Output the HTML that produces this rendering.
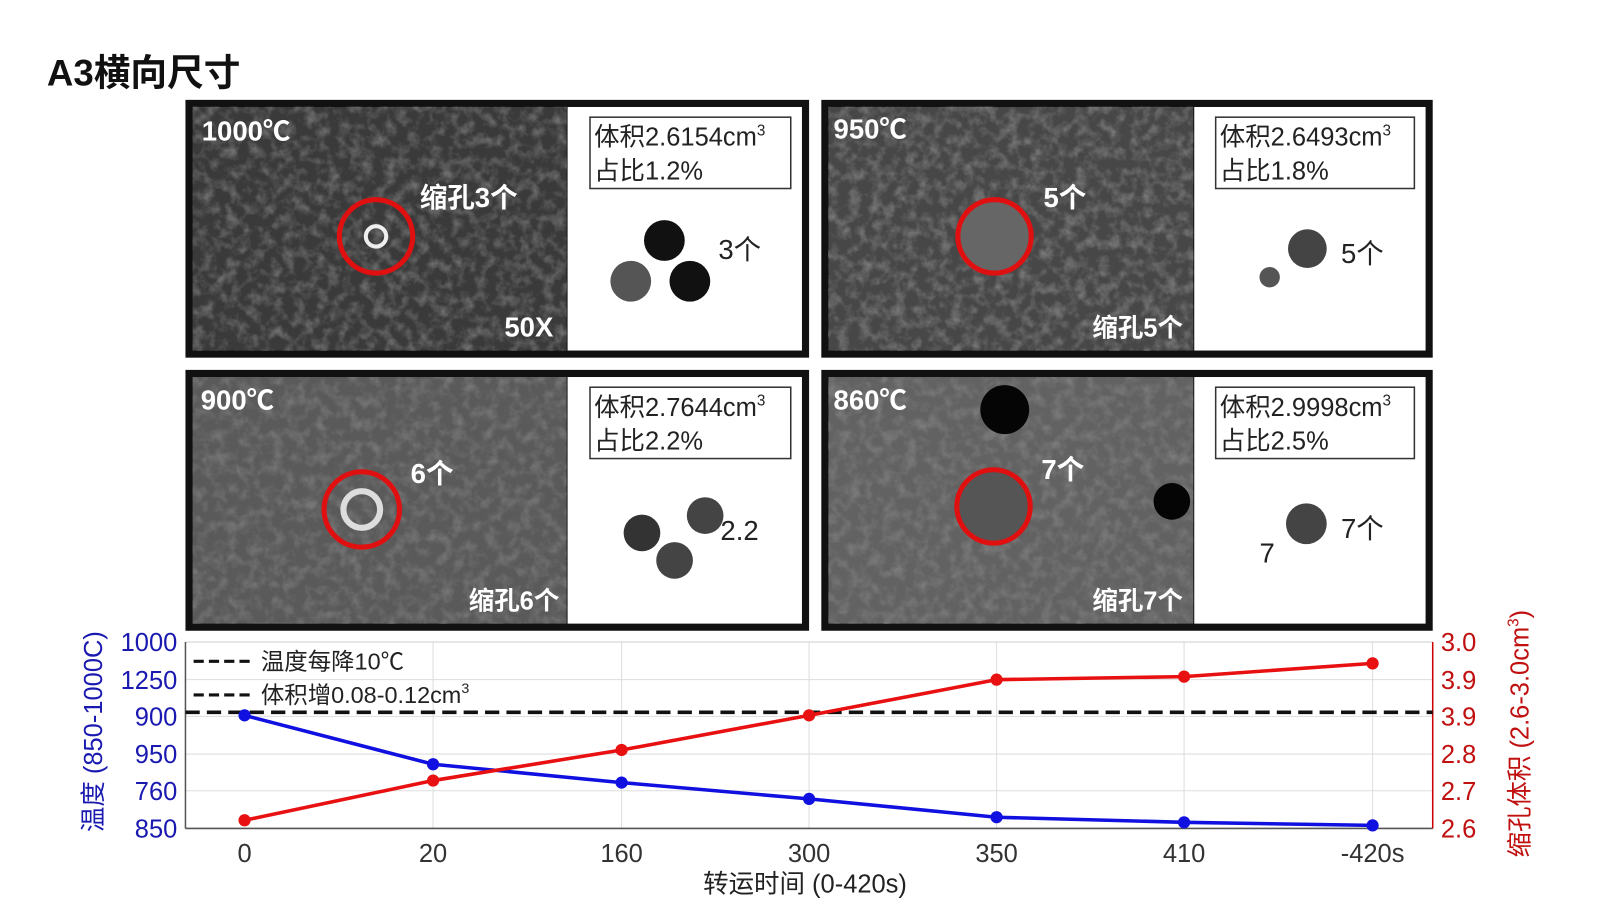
<!DOCTYPE html>
<html><head><meta charset="utf-8"><style>
body{margin:0;background:#fff;}
svg{display:block;font-family:"Liberation Sans","Noto Sans CJK SC",sans-serif;}
</style></head><body>
<svg width="1600" height="899" viewBox="0 0 1600 899">
<defs>
<filter id="n" x="0" y="0" width="100%" height="100%">
<feTurbulence type="fractalNoise" baseFrequency="0.09" numOctaves="3" seed="3"/>
<feColorMatrix type="matrix" values="0 0 0 0 0.35  0 0 0 0 0.35  0 0 0 0 0.35  0 0 0 2.2 -0.9"/>
</filter>
</defs>
<g transform="scale(1.019)">
<text x="46" y="84" font-size="36" font-weight="bold" fill="#111">A3横向尺寸</text>

<g>
<rect x="182" y="98" width="612" height="253" fill="#111"/>
<rect x="189" y="105" width="367" height="239" fill="#3a3a3a"/>
<rect x="189" y="105" width="367" height="239" fill="#fff" filter="url(#n)" opacity="0.5"/>
<rect x="557" y="105" width="230" height="239" fill="#fff"/>
<rect x="579" y="115" width="197" height="70" fill="#fff" stroke="#333" stroke-width="1.5"/>
<text x="583" y="143" font-size="25" fill="#222">体积2.6154cm<tspan font-size="15" dy="-10">3</tspan></text>
<text x="583" y="176" font-size="25" fill="#222">占比1.2%</text>
<circle cx="369" cy="232" r="36" fill="none" stroke="#e01010" stroke-width="5"/>
<circle cx="369" cy="232" r="10" fill="none" stroke="#eee" stroke-width="4"/>
<text x="198" y="138" font-size="27" font-weight="bold" fill="#fff">1000℃</text>
<text x="412" y="203" font-size="27" font-weight="bold" fill="#fff">缩孔3个</text>
<text x="495" y="330" font-size="27" font-weight="bold" fill="#fff">50X</text>
<circle cx="652" cy="236" r="20" fill="#111"/><circle cx="619" cy="276" r="20" fill="#555"/><circle cx="677" cy="276" r="20" fill="#111"/>
<text x="705" y="254" font-size="27" fill="#222">3个</text>
</g>
<g>
<rect x="806" y="98" width="600" height="253" fill="#111"/>
<rect x="813" y="105" width="358" height="239" fill="#474747"/>
<rect x="813" y="105" width="358" height="239" fill="#fff" filter="url(#n)" opacity="0.55"/>
<rect x="1172" y="105" width="227" height="239" fill="#fff"/>
<rect x="1193" y="115" width="195" height="70" fill="#fff" stroke="#333" stroke-width="1.5"/>
<text x="1197" y="143" font-size="25" fill="#222">体积2.6493cm<tspan font-size="15" dy="-10">3</tspan></text>
<text x="1197" y="176" font-size="25" fill="#222">占比1.8%</text>
<circle cx="976" cy="232" r="36" fill="#666" stroke="#e01010" stroke-width="5"/>
<text x="818" y="136" font-size="27" font-weight="bold" fill="#fff">950℃</text>
<text x="1024" y="203" font-size="27" font-weight="bold" fill="#fff">5个</text>
<text x="1072" y="330" font-size="25" font-weight="bold" fill="#fff">缩孔5个</text>
<circle cx="1283" cy="244" r="19" fill="#444"/><circle cx="1246" cy="272" r="10" fill="#555"/>
<text x="1316" y="258" font-size="27" fill="#222">5个</text>
</g>
<g>
<rect x="182" y="363" width="612" height="256" fill="#111"/>
<rect x="189" y="370" width="367" height="242" fill="#5a5a5a"/>
<rect x="189" y="370" width="367" height="242" fill="#fff" filter="url(#n)" opacity="0.4"/>
<rect x="557" y="370" width="230" height="242" fill="#fff"/>
<rect x="579" y="380" width="197" height="70" fill="#fff" stroke="#333" stroke-width="1.5"/>
<text x="583" y="408" font-size="25" fill="#222">体积2.7644cm<tspan font-size="15" dy="-10">3</tspan></text>
<text x="583" y="441" font-size="25" fill="#222">占比2.2%</text>
<circle cx="355" cy="500" r="37" fill="none" stroke="#e01010" stroke-width="5"/>
<circle cx="355" cy="500" r="18" fill="none" stroke="#ddd" stroke-width="6"/>
<text x="197" y="402" font-size="27" font-weight="bold" fill="#fff">900℃</text>
<text x="403" y="474" font-size="27" font-weight="bold" fill="#fff">6个</text>
<text x="460" y="598" font-size="25" font-weight="bold" fill="#fff">缩孔6个</text>
<circle cx="630" cy="523" r="18" fill="#333"/><circle cx="692" cy="506" r="18" fill="#444"/><circle cx="662" cy="550" r="18" fill="#444"/>
<text x="707" y="530" font-size="27" fill="#222">2.2</text>
</g>
<g>
<rect x="806" y="363" width="600" height="256" fill="#111"/>
<rect x="813" y="370" width="358" height="242" fill="#626262"/>
<rect x="813" y="370" width="358" height="242" fill="#fff" filter="url(#n)" opacity="0.4"/>
<rect x="1172" y="370" width="227" height="242" fill="#fff"/>
<rect x="1193" y="380" width="195" height="70" fill="#fff" stroke="#333" stroke-width="1.5"/>
<text x="1197" y="408" font-size="25" fill="#222">体积2.9998cm<tspan font-size="15" dy="-10">3</tspan></text>
<text x="1197" y="441" font-size="25" fill="#222">占比2.5%</text>
<circle cx="986" cy="402" r="24" fill="#050505"/><circle cx="1150" cy="492" r="18" fill="#050505"/>
<circle cx="975" cy="497" r="36" fill="#555" stroke="#e01010" stroke-width="5"/>
<text x="818" y="402" font-size="27" font-weight="bold" fill="#fff">860℃</text>
<text x="1022" y="470" font-size="27" font-weight="bold" fill="#fff">7个</text>
<text x="1072" y="598" font-size="25" font-weight="bold" fill="#fff">缩孔7个</text>
<circle cx="1282" cy="514" r="20" fill="#444"/>
<text x="1236" y="552" font-size="27" fill="#222">7</text>
<text x="1316" y="528" font-size="27" fill="#222">7个</text>
</g>

<g stroke="#ddd" stroke-width="1">
<line x1="182" y1="667" x2="1406" y2="667"/><line x1="182" y1="703" x2="1406" y2="703"/>
<line x1="182" y1="740" x2="1406" y2="740"/><line x1="182" y1="776" x2="1406" y2="776"/>
<line x1="425" y1="630" x2="425" y2="813"/><line x1="610" y1="630" x2="610" y2="813"/>
<line x1="794" y1="630" x2="794" y2="813"/><line x1="978" y1="630" x2="978" y2="813"/>
<line x1="1162" y1="630" x2="1162" y2="813"/><line x1="1347" y1="630" x2="1347" y2="813"/>
</g>
<line x1="182" y1="630" x2="1406" y2="630" stroke="#ccc"/>
<line x1="182" y1="630" x2="182" y2="813" stroke="#555" stroke-width="1.5"/>
<line x1="182" y1="813" x2="1406" y2="813" stroke="#555" stroke-width="1.5"/>
<line x1="1406" y1="630" x2="1406" y2="813" stroke="#c00" stroke-width="1.5"/>
<line x1="182" y1="699" x2="1406" y2="699" stroke="#111" stroke-width="3.5" stroke-dasharray="14,7"/>
<line x1="190" y1="649" x2="250" y2="649" stroke="#111" stroke-width="3" stroke-dasharray="10,5"/>
<line x1="190" y1="682" x2="250" y2="682" stroke="#111" stroke-width="3" stroke-dasharray="10,5"/>
<text x="256" y="657" font-size="23" fill="#222">温度每降10℃</text>
<text x="256" y="690" font-size="23" fill="#222">体积增0.08-0.12cm<tspan font-size="14" dy="-10">3</tspan></text>
<polyline points="240,702 425,750 610,768 794,784 978,802 1162,807 1347,810" fill="none" stroke="#1010e0" stroke-width="3.5"/>
<g fill="#1010e0"><circle cx="240" cy="702" r="6"/><circle cx="425" cy="750" r="6"/><circle cx="610" cy="768" r="6"/><circle cx="794" cy="784" r="6"/><circle cx="978" cy="802" r="6"/><circle cx="1162" cy="807" r="6"/><circle cx="1347" cy="810" r="6"/></g>
<polyline points="240,805 425,766 610,736 794,702 978,667 1162,664 1347,651" fill="none" stroke="#e81010" stroke-width="3.5"/>
<g fill="#e81010"><circle cx="240" cy="805" r="6"/><circle cx="425" cy="766" r="6"/><circle cx="610" cy="736" r="6"/><circle cx="794" cy="702" r="6"/><circle cx="978" cy="667" r="6"/><circle cx="1162" cy="664" r="6"/><circle cx="1347" cy="651" r="6"/></g>
<g font-size="25" fill="#1a1ab0" text-anchor="end">
<text x="174" y="639">1000</text><text x="174" y="676">1250</text><text x="174" y="712">900</text>
<text x="174" y="749">950</text><text x="174" y="785">760</text><text x="174" y="822">850</text>
</g>
<g font-size="25" fill="#c01010">
<text x="1414" y="639">3.0</text><text x="1414" y="676">3.9</text><text x="1414" y="712">3.9</text>
<text x="1414" y="749">2.8</text><text x="1414" y="785">2.7</text><text x="1414" y="822">2.6</text>
</g>
<g font-size="25" fill="#333" text-anchor="middle">
<text x="240" y="846">0</text><text x="425" y="846">20</text><text x="610" y="846">160</text><text x="794" y="846">300</text>
<text x="978" y="846">350</text><text x="1162" y="846">410</text><text x="1347" y="846">-420s</text>
</g>
<text x="790" y="876" font-size="25" fill="#222" text-anchor="middle">转运时间 (0-420s)</text>
<text transform="translate(100,718) rotate(-90)" font-size="25" fill="#1a1ab0" text-anchor="middle">温度 (850-1000C)</text>
<text transform="translate(1500,720) rotate(-90)" font-size="25" fill="#c01010" text-anchor="middle">缩孔体积 (2.6-3.0cm<tspan font-size="15" dy="-10">3</tspan><tspan dy="10">)</tspan></text>
</g>
</svg>
</body></html>
